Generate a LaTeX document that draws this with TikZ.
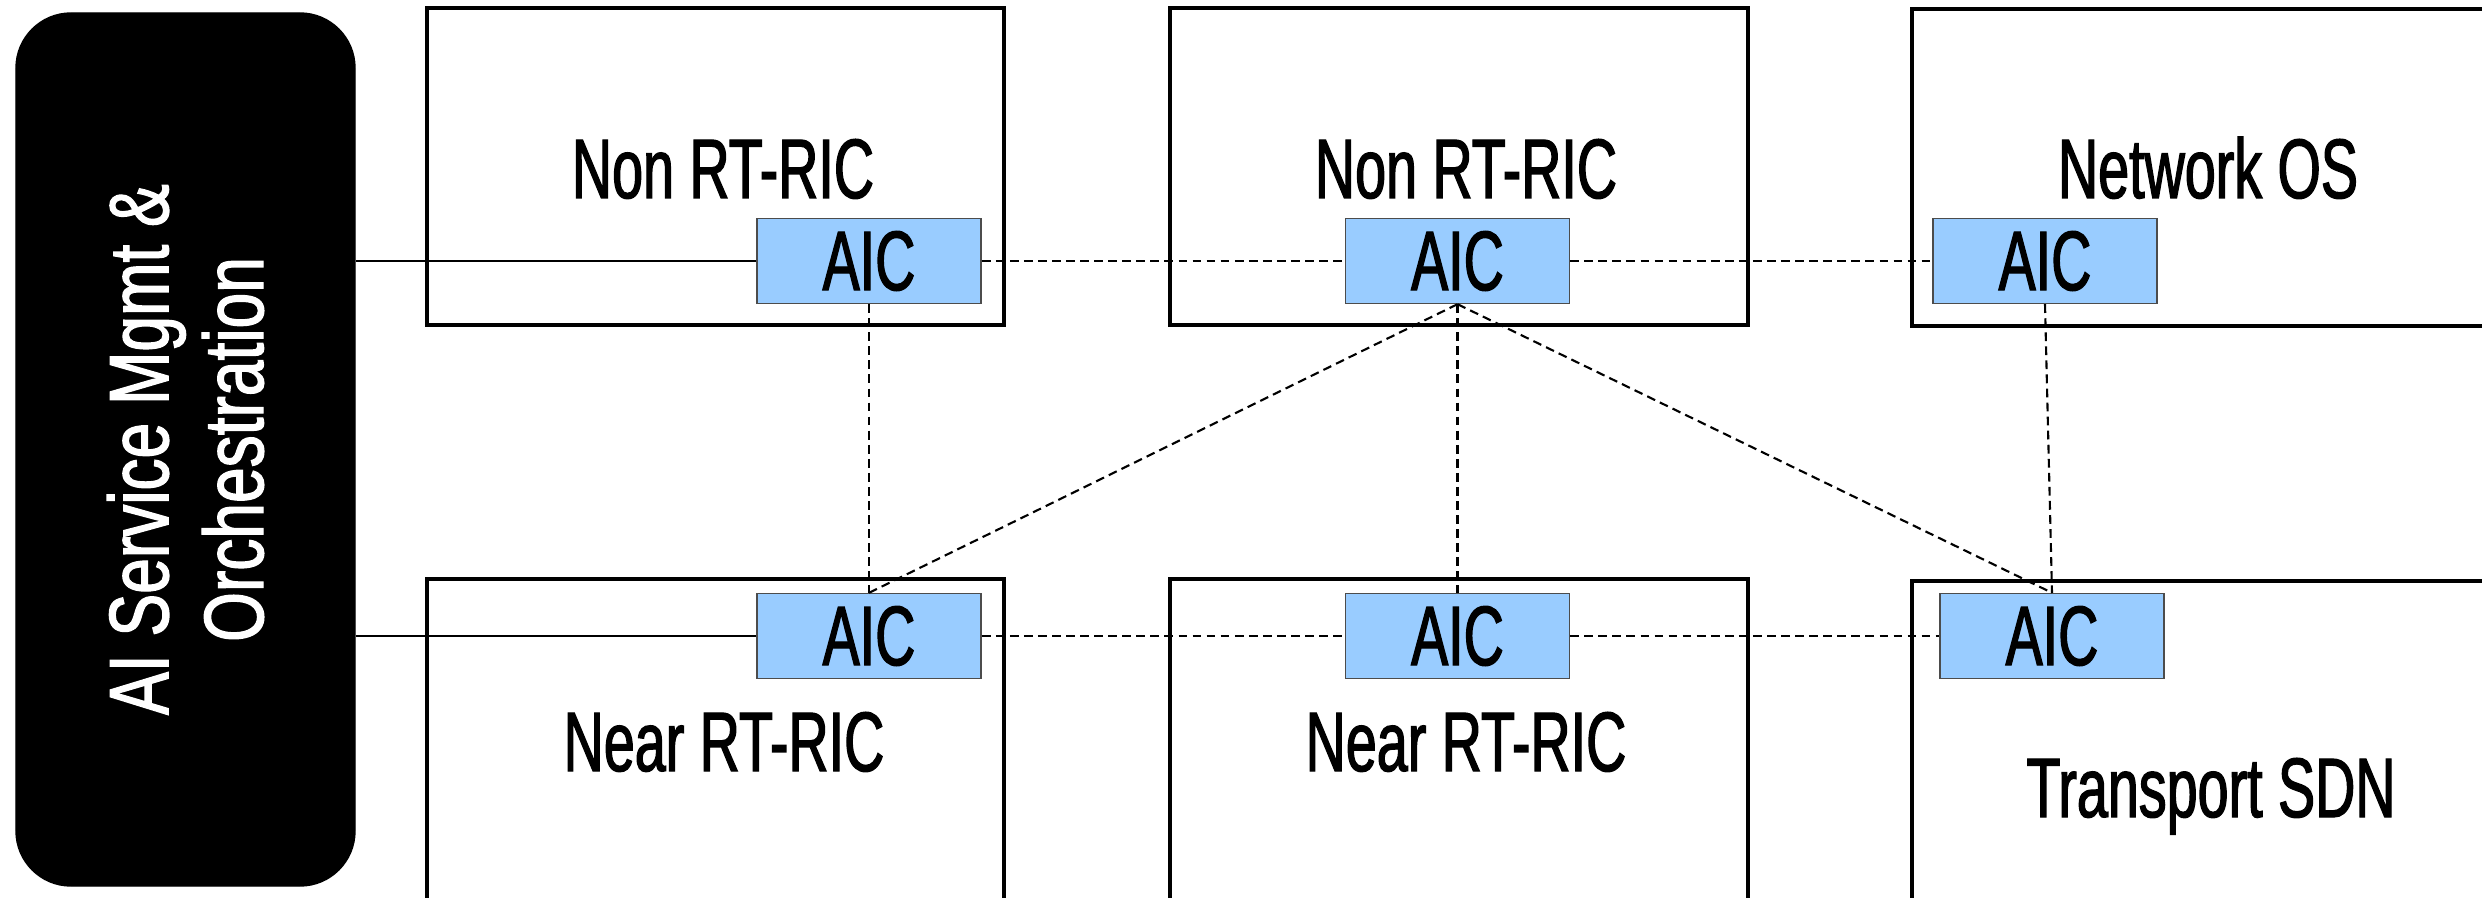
\documentclass[tikz,border=0pt]{standalone}
\usepackage{fontspec}
\setmainfont{Liberation Sans}[FakeStretch=0.66, FakeBold=1.5]
\newfontfamily\orchfont{Liberation Sans}[FakeStretch=0.76, FakeBold=1.5]
\usepackage{xcolor}
\usepackage{tikz}
\usetikzlibrary{positioning, calc}
\definecolor{aicblue}{HTML}{99CCFF}
\tikzstyle{orch} = [rectangle, rounded corners=0.55cm, fill=black, draw=black, text=white, align=center, inner sep=0pt, font=\orchfont\fontsize{24}{27}\selectfont]
\tikzstyle{host} = [rectangle, draw=black, line width=0.9pt, inner sep=0pt]
\tikzstyle{aic} = [rectangle, minimum width=2.24cm, minimum height=0.85cm, inner sep=0pt, draw=black!70, line width=0.4pt, fill=aicblue]
\tikzstyle{hostlabel} = [anchor=base, inner sep=0pt]
\tikzstyle{mgmt} = [line width=0.6pt]
\tikzstyle{link} = [line width=0.6pt, dash pattern=on 2.5pt off 1.5pt]

\begin{document}
\begin{tikzpicture}[font=\fontsize{24}{27}\selectfont]
\useasboundingbox (0,0) rectangle (24.82,-8.98);
\clip (0,0) rectangle (24.82,-8.98);

% Management block (left)
\node (orch) [orch, rotate=90, minimum width=8.73cm, minimum height=3.39cm] at (1.855,-4.495) {AI Service Mgmt \&\\Orchestration};

% Top row
\node (nonrt1) [host, minimum width=5.77cm, minimum height=3.17cm] at (7.155,-1.665) {};
\node (nonrt2) [host, minimum width=5.78cm, minimum height=3.17cm] at (14.59,-1.665) {};
\node (netos) [host, minimum width=6.92cm, minimum height=3.17cm] at (22.58,-1.675) {};

% Bottom row
\node (nearrt1) [host, minimum width=5.77cm, minimum height=3.71cm] at (7.155,-7.645) {};
\node (nearrt2) [host, minimum width=5.78cm, minimum height=3.71cm] at (14.59,-7.645) {};
\node (tsdn) [host, minimum width=6.92cm, minimum height=3.69cm] at (22.58,-7.655) {};

% Labels
\node (lblnonrt1) [hostlabel] at (7.23,-1.98) {Non RT-RIC};
\node (lblnonrt2) [hostlabel] at (14.66,-1.98) {Non RT-RIC};
\node (lblnetos) [hostlabel] at (22.08,-1.98) {Network OS};
\node (lblnearrt1) [hostlabel] at (7.24,-7.71) {Near RT-RIC};
\node (lblnearrt2) [hostlabel] at (14.66,-7.71) {Near RT-RIC};
\node (lbltsdn) [hostlabel] at (22.11,-8.17) {Transport SDN};

% AI controllers
\node (aic1) [aic] at (8.69,-2.61) {AIC};
\node (aic2) [aic] at (14.575,-2.61) {AIC};
\node (aic3) [aic] at (20.45,-2.61) {AIC};
\node (aic4) [aic] at (8.69,-6.36) {AIC};
\node (aic5) [aic] at (14.575,-6.36) {AIC};
\node (aic6) [aic] at (20.52,-6.36) {AIC};

% Links
\draw [mgmt] (orch.south |- aic1) -- (aic1.west);
\draw [mgmt] (orch.south |- aic4) -- (aic4.west);

\draw [link] (aic1) -- (aic2);
\draw [link] (aic2) -- (aic3);
\draw [link] (aic4) -- (aic5);
\draw [link] (aic5) -- (aic6);

\draw [link] (aic1) -- (aic4);
\draw [link] (aic2) -- (aic5);
\draw [link] (aic3.south) -- (aic6.north);
\draw [link] (aic2.south) -- (aic4.north);
\draw [link] (aic2.south) -- (aic6.north);

\end{tikzpicture}
\end{document}
